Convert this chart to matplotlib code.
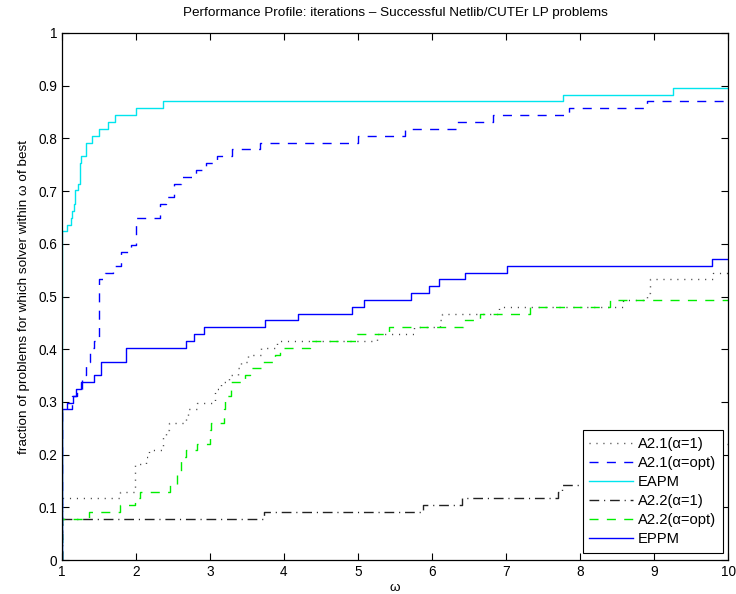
import numpy as np
import matplotlib
matplotlib.use("Agg")
import matplotlib.pyplot as plt

plt.rcParams['font.family'] = ['Liberation Sans', 'DejaVu Sans']

n_problems = 77

# A2.1(alpha=1)
a21_1_tau = [1, 1.78, 1.98, 2.14, 2.17, 2.36, 2.40, 2.44, 2.68, 2.70, 2.82, 3.07, 3.15, 3.25,
             3.38, 3.42, 3.52, 3.69, 3.90, 5.25, 5.75, 6.11, 6.13, 6.90, 8.58, 8.90, 8.95, 9.80]
a21_1_cnt = [9, 10, 14, 15, 16, 18, 19, 20, 21, 22, 23, 25, 26, 27,
             28, 29, 30, 31, 32, 33, 34, 35, 36, 37, 38, 39, 41, 42]

# A2.1(alpha=opt)
a21_opt_tau = [1, 1.13, 1.20, 1.27, 1.33, 1.383, 1.43, 1.496, 1.577, 1.689, 1.793, 1.937, 1.996,
               2.33, 2.405, 2.51, 2.61, 2.815, 2.95, 3.10, 3.30, 3.676, 5.004, 5.635, 6.33,
               6.82, 7.85, 8.90]
a21_opt_cnt = [22, 24, 25, 27, 29, 31, 32, 41, 42, 43, 45, 46, 50,
               52, 53, 55, 56, 57, 58, 59, 60, 61, 62, 63, 64,
               65, 66, 67]

# EAPM
eapm_tau = [1, 1.072, 1.126, 1.14, 1.158, 1.17, 1.18, 1.22, 1.248, 1.261, 1.329, 1.401, 1.504,
            1.626, 1.712, 1.996, 2.369, 7.766, 9.26]
eapm_cnt = [48, 49, 50, 51, 52, 53, 54, 55, 58, 59, 61, 62, 63,
            64, 65, 66, 67, 68, 69]

# A2.2(alpha=1)
a22_1_tau = [1, 3.73, 5.88, 6.40, 7.70, 7.76, 8.30, 8.80, 9.30, 9.70]
a22_1_cnt = [6, 7, 8, 9, 10, 11, 12, 14, 16, 17]

# A2.2(alpha=opt)
a22_opt_tau = [1, 1.37, 1.78, 1.98, 2.05, 2.455, 2.56, 2.61, 2.68, 2.83, 3.00, 3.02, 3.185,
               3.20, 3.29, 3.47, 3.54, 3.70, 3.88, 3.95, 4.35, 4.98, 5.42, 6.42, 6.65, 7.32, 8.40]
a22_opt_cnt = [6, 7, 8, 9, 10, 11, 13, 15, 16, 17, 19, 20, 22,
               24, 26, 27, 28, 29, 30, 31, 32, 33, 34, 35, 36, 37, 38]

# EPPM
eppm_tau = [1, 1.072, 1.149, 1.19, 1.261, 1.432, 1.531, 1.86, 2.68, 2.79, 2.92, 3.743, 4.19,
            4.915, 5.08, 5.71, 5.96, 6.10, 6.45, 7.01, 9.78]
eppm_cnt = [22, 23, 24, 25, 26, 27, 29, 31, 32, 33, 34, 35, 36,
            37, 38, 39, 40, 41, 42, 43, 44]

series = [
    ("A2.1(\u03b1=1)", a21_1_tau, a21_1_cnt, dict(color='#444444', linestyle=(0, (0.8, 4.2)))),
    ("A2.1(\u03b1=opt)", a21_opt_tau, a21_opt_cnt, dict(color='#0000ff', linestyle=(0, (6.5, 6)))),
    ("EAPM", eapm_tau, eapm_cnt, dict(color='#00e5ee', linestyle='-')),
    ("A2.2(\u03b1=1)", a22_1_tau, a22_1_cnt, dict(color='#222222', linestyle=(0, (7, 3.5, 0.8, 3.5)))),
    ("A2.2(\u03b1=opt)", a22_opt_tau, a22_opt_cnt, dict(color='#00ee00', linestyle=(0, (6.5, 6)))),
    ("EPPM", eppm_tau, eppm_cnt, dict(color='#0000ff', linestyle='-')),
]

fig = plt.figure(figsize=(7.36, 5.94), dpi=100)
ax = fig.add_axes([62/736, 34/594, 666/736, 527/594])

for label, tau, cnt, style in series:
    x = np.array([1.0] + list(tau) + [10.0])
    y = np.array([0] + list(cnt) + [cnt[-1]]) / n_problems
    ax.step(x, y, where='post', linewidth=1.0, label=label, **style)

ax.set_xlim(1, 10)
ax.set_ylim(0, 1)
ax.set_xticks(range(1, 11))
ax.set_yticks(np.arange(0, 1.01, 0.1))
ax.set_yticklabels(['0', '0.1', '0.2', '0.3', '0.4', '0.5', '0.6', '0.7', '0.8', '0.9', '1'])
ax.tick_params(direction='in', top=True, right=True, labelsize=9.8, length=5, width=0.8)
for s in ax.spines.values():
    s.set_linewidth(0.9)

ax.set_title("Performance Profile: iterations \u2013 Successful Netlib/CUTEr LP problems",
             fontsize=9.7, pad=12)
ax.set_ylabel("fraction of problems for which solver within \u03c9 of best", fontsize=9.7, labelpad=6)
ax.set_xlabel("\u03c9", fontsize=9.7, labelpad=2)

leg = ax.legend(loc='lower right', bbox_to_anchor=(722.5/736, (594-552.5)/594),
                bbox_transform=fig.transFigure, borderaxespad=0,
                fontsize=10.6, frameon=True, fancybox=False,
                edgecolor='black', framealpha=1, handlelength=3.0, labelspacing=0.34,
                handletextpad=0.3, borderpad=0.45)
leg.get_frame().set_linewidth(0.8)

fig.savefig("out.png", dpi=100)
